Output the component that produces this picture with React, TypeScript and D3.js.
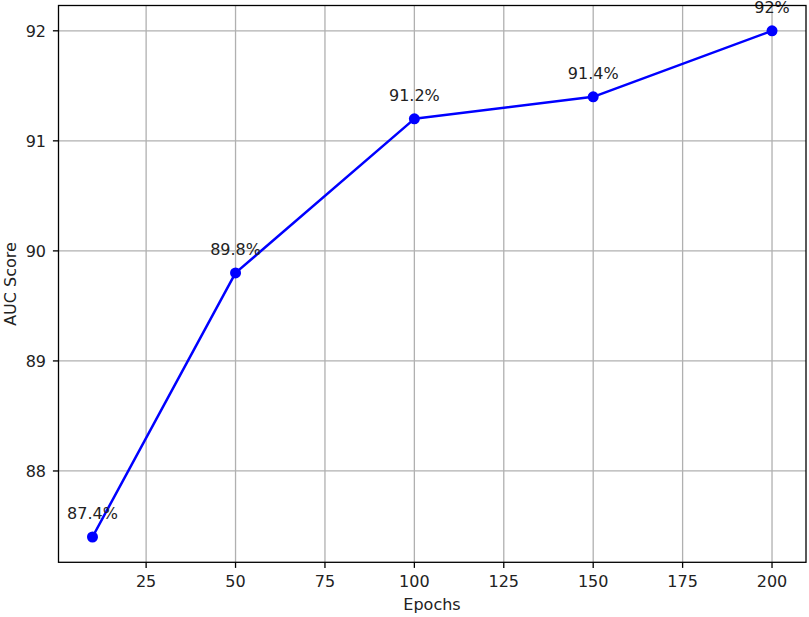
import React from "react";
import * as d3 from "d3";

const epochs = [10, 50, 100, 150, 200];
const aucScores = [87.4, 89.8, 91.2, 91.4, 92.0];
const pointLabels = ["87.4%", "89.8%", "91.2%", "91.4%", "92%"];
const xTicks = [25, 50, 75, 100, 125, 150, 175, 200];
const yTicks = [88, 89, 90, 91, 92];

const W = 809;
const H = 617;
const L = 58.5, R = 806, T = 5.5, B = 562.3;
const FONT = "DejaVu Sans, sans-serif";
const FS = 16;

export default function App() {
  const x = d3.scaleLinear().domain([0.5, 209.5]).range([L, R]);
  const y = d3.scaleLinear().domain([87.17, 92.23]).range([B, T]);
  const line = d3
    .line<number>()
    .x((_, i) => x(epochs[i]))
    .y((d) => y(d));

  return (
    <svg
      width={W}
      height={H}
      style={{ position: "absolute", left: 0, top: 0, background: "#fff" }}
      fontFamily={FONT}
    >
      <rect x={0} y={0} width={W} height={H} fill="#fff" />
      {xTicks.map((t) => (
        <line key={"gx" + t} x1={x(t)} x2={x(t)} y1={T} y2={B} stroke="#b0b0b0" strokeWidth={1.3} />
      ))}
      {yTicks.map((t) => (
        <line key={"gy" + t} x1={L} x2={R} y1={y(t)} y2={y(t)} stroke="#b0b0b0" strokeWidth={1.3} />
      ))}
      <path d={line(aucScores) || ""} fill="none" stroke="#0000ff" strokeWidth={2.5} strokeLinejoin="round" />
      {aucScores.map((v, i) => (
        <circle key={"p" + i} cx={x(epochs[i])} cy={y(v)} r={5.5} fill="#0000ff" />
      ))}
      {aucScores.map((v, i) => (
        <text
          key={"l" + i}
          x={x(epochs[i])}
          y={y(v) - 17.7}
          textAnchor="middle"
          fontSize={FS}
          fill="#222"
        >
          {pointLabels[i]}
        </text>
      ))}
      <rect x={L} y={T} width={R - L} height={B - T} fill="none" stroke="#000" strokeWidth={1.3} />
      {xTicks.map((t) => (
        <g key={"tx" + t}>
          <line x1={x(t)} x2={x(t)} y1={B} y2={B + 5.6} stroke="#000" strokeWidth={1.3} />
          <text x={x(t)} y={587} textAnchor="middle" fontSize={FS} fill="#222">
            {t}
          </text>
        </g>
      ))}
      {yTicks.map((t) => (
        <g key={"ty" + t}>
          <line x1={L - 5.6} x2={L} y1={y(t)} y2={y(t)} stroke="#000" strokeWidth={1.3} />
          <text x={46} y={y(t)} dy="0.36em" textAnchor="end" fontSize={FS} fill="#222">
            {t}
          </text>
        </g>
      ))}
      <text x={432} y={610} textAnchor="middle" fontSize={FS} fill="#222">
        Epochs
      </text>
      <text
        transform={`translate(15.5, 284) rotate(-90)`}
        textAnchor="middle"
        fontSize={FS}
        fill="#222"
      >
        AUC Score
      </text>
    </svg>
  );
}
